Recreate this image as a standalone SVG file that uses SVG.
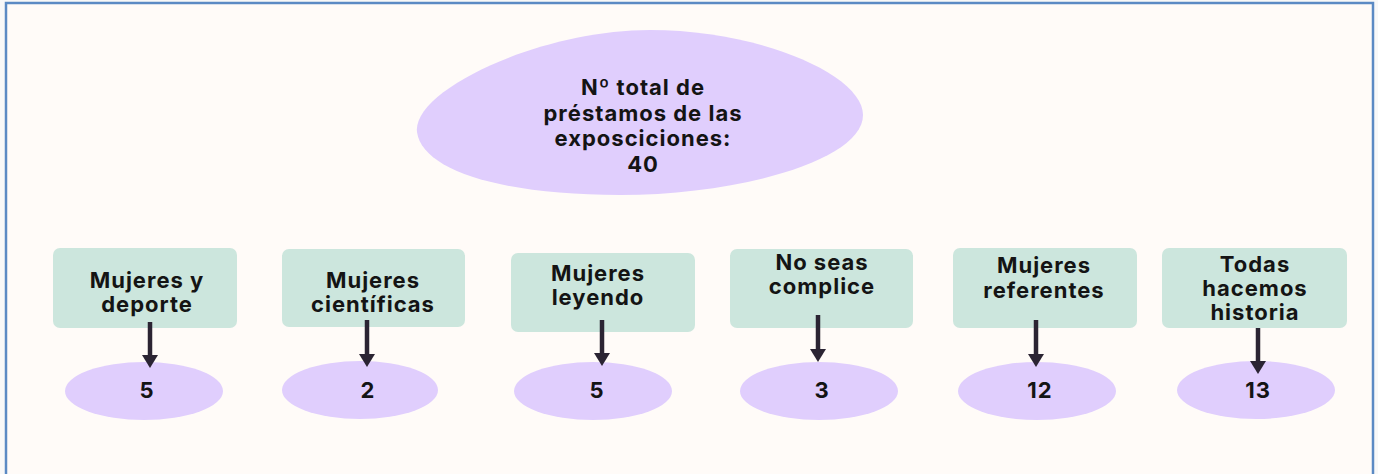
<svg xmlns="http://www.w3.org/2000/svg" width="1378" height="474" viewBox="0 0 1378 474">
<defs>
<style>
.bg{fill:#fffbf8}
.box{fill:#cce6dd}
.oval{fill:#e0cefd}
.t{font-family:Inter,"Liberation Sans",sans-serif;font-weight:700;font-size:22px;letter-spacing:1px;fill:#141414;text-anchor:middle}
.c{stroke:#2b2433;stroke-width:4.5;fill:none}
</style>
<marker id="ah" viewBox="0 0 13 16" refX="0" refY="8" markerWidth="2.9" markerHeight="3.55" orient="auto" markerUnits="strokeWidth">
<path d="M0,0 L13,8 L0,16 Z" fill="#2b2433"/>
</marker>
</defs>
<rect width="1378" height="474" fill="#f8f8f8"/>
<rect x="6" y="3" width="1367" height="475" class="bg" stroke="#5b8ac4" stroke-width="2.5"/>
<g id="total">
<path class="oval" d="M417,132 C412,90 540,30 650,30 C760,30 863,75 863,115 C863,160 740,195 620,195 C500,195 422,170 417,132 Z"/>
<text class="t" x="643" y="95">Nº total de</text>
<text class="t" x="643" y="121">préstamos de las</text>
<text class="t" x="643" y="146">exposciciones:</text>
<text class="t" x="643" y="172">40</text>
</g>
<g id="n1">
<rect class="box" x="53" y="248" width="184" height="80" rx="7"/>
<text class="t" x="147" y="288">Mujeres y</text>
<text class="t" x="147" y="312">deporte</text>
</g>
<g id="n2">
<rect class="box" x="282" y="249" width="183" height="78" rx="7"/>
<text class="t" x="373" y="288">Mujeres</text>
<text class="t" x="373" y="312">científicas</text>
</g>
<g id="n3">
<rect class="box" x="511" y="253" width="184" height="79" rx="7"/>
<text class="t" x="598" y="281">Mujeres</text>
<text class="t" x="598" y="305">leyendo</text>
</g>
<g id="n4">
<rect class="box" x="730" y="249" width="183" height="79" rx="7"/>
<text class="t" x="822" y="270">No seas</text>
<text class="t" x="822" y="294">complice</text>
</g>
<g id="n5">
<rect class="box" x="953" y="248" width="184" height="80" rx="7"/>
<text class="t" x="1044" y="273">Mujeres</text>
<text class="t" x="1044" y="298">referentes</text>
</g>
<g id="n6">
<rect class="box" x="1162" y="248" width="185" height="80" rx="7"/>
<text class="t" x="1255" y="272">Todas</text>
<text class="t" x="1255" y="296">hacemos</text>
<text class="t" x="1255" y="320">historia</text>
</g>
<g id="v1"><ellipse class="oval" cx="144" cy="391" rx="79" ry="29"/><text class="t" x="147" y="398">5</text></g>
<g id="v2"><ellipse class="oval" cx="360" cy="390" rx="78" ry="29"/><text class="t" x="368" y="398">2</text></g>
<g id="v3"><ellipse class="oval" cx="593" cy="391" rx="79" ry="29"/><text class="t" x="597" y="398">5</text></g>
<g id="v4"><ellipse class="oval" cx="819" cy="391" rx="79" ry="29"/><text class="t" x="822" y="398">3</text></g>
<g id="v5"><ellipse class="oval" cx="1037" cy="391" rx="79" ry="29"/><text class="t" x="1040" y="398">12</text></g>
<g id="v6"><ellipse class="oval" cx="1256" cy="390" rx="79" ry="29"/><text class="t" x="1258" y="398">13</text></g>
<g id="connectors">
<path class="c" d="M150,322 V355" marker-end="url(#ah)"/>
<path class="c" d="M367,320 V354" marker-end="url(#ah)"/>
<path class="c" d="M602,320 V353" marker-end="url(#ah)"/>
<path class="c" d="M818,315 V349" marker-end="url(#ah)"/>
<path class="c" d="M1036,320 V354" marker-end="url(#ah)"/>
<path class="c" d="M1258,328 V361" marker-end="url(#ah)"/>
</g>
</svg>
